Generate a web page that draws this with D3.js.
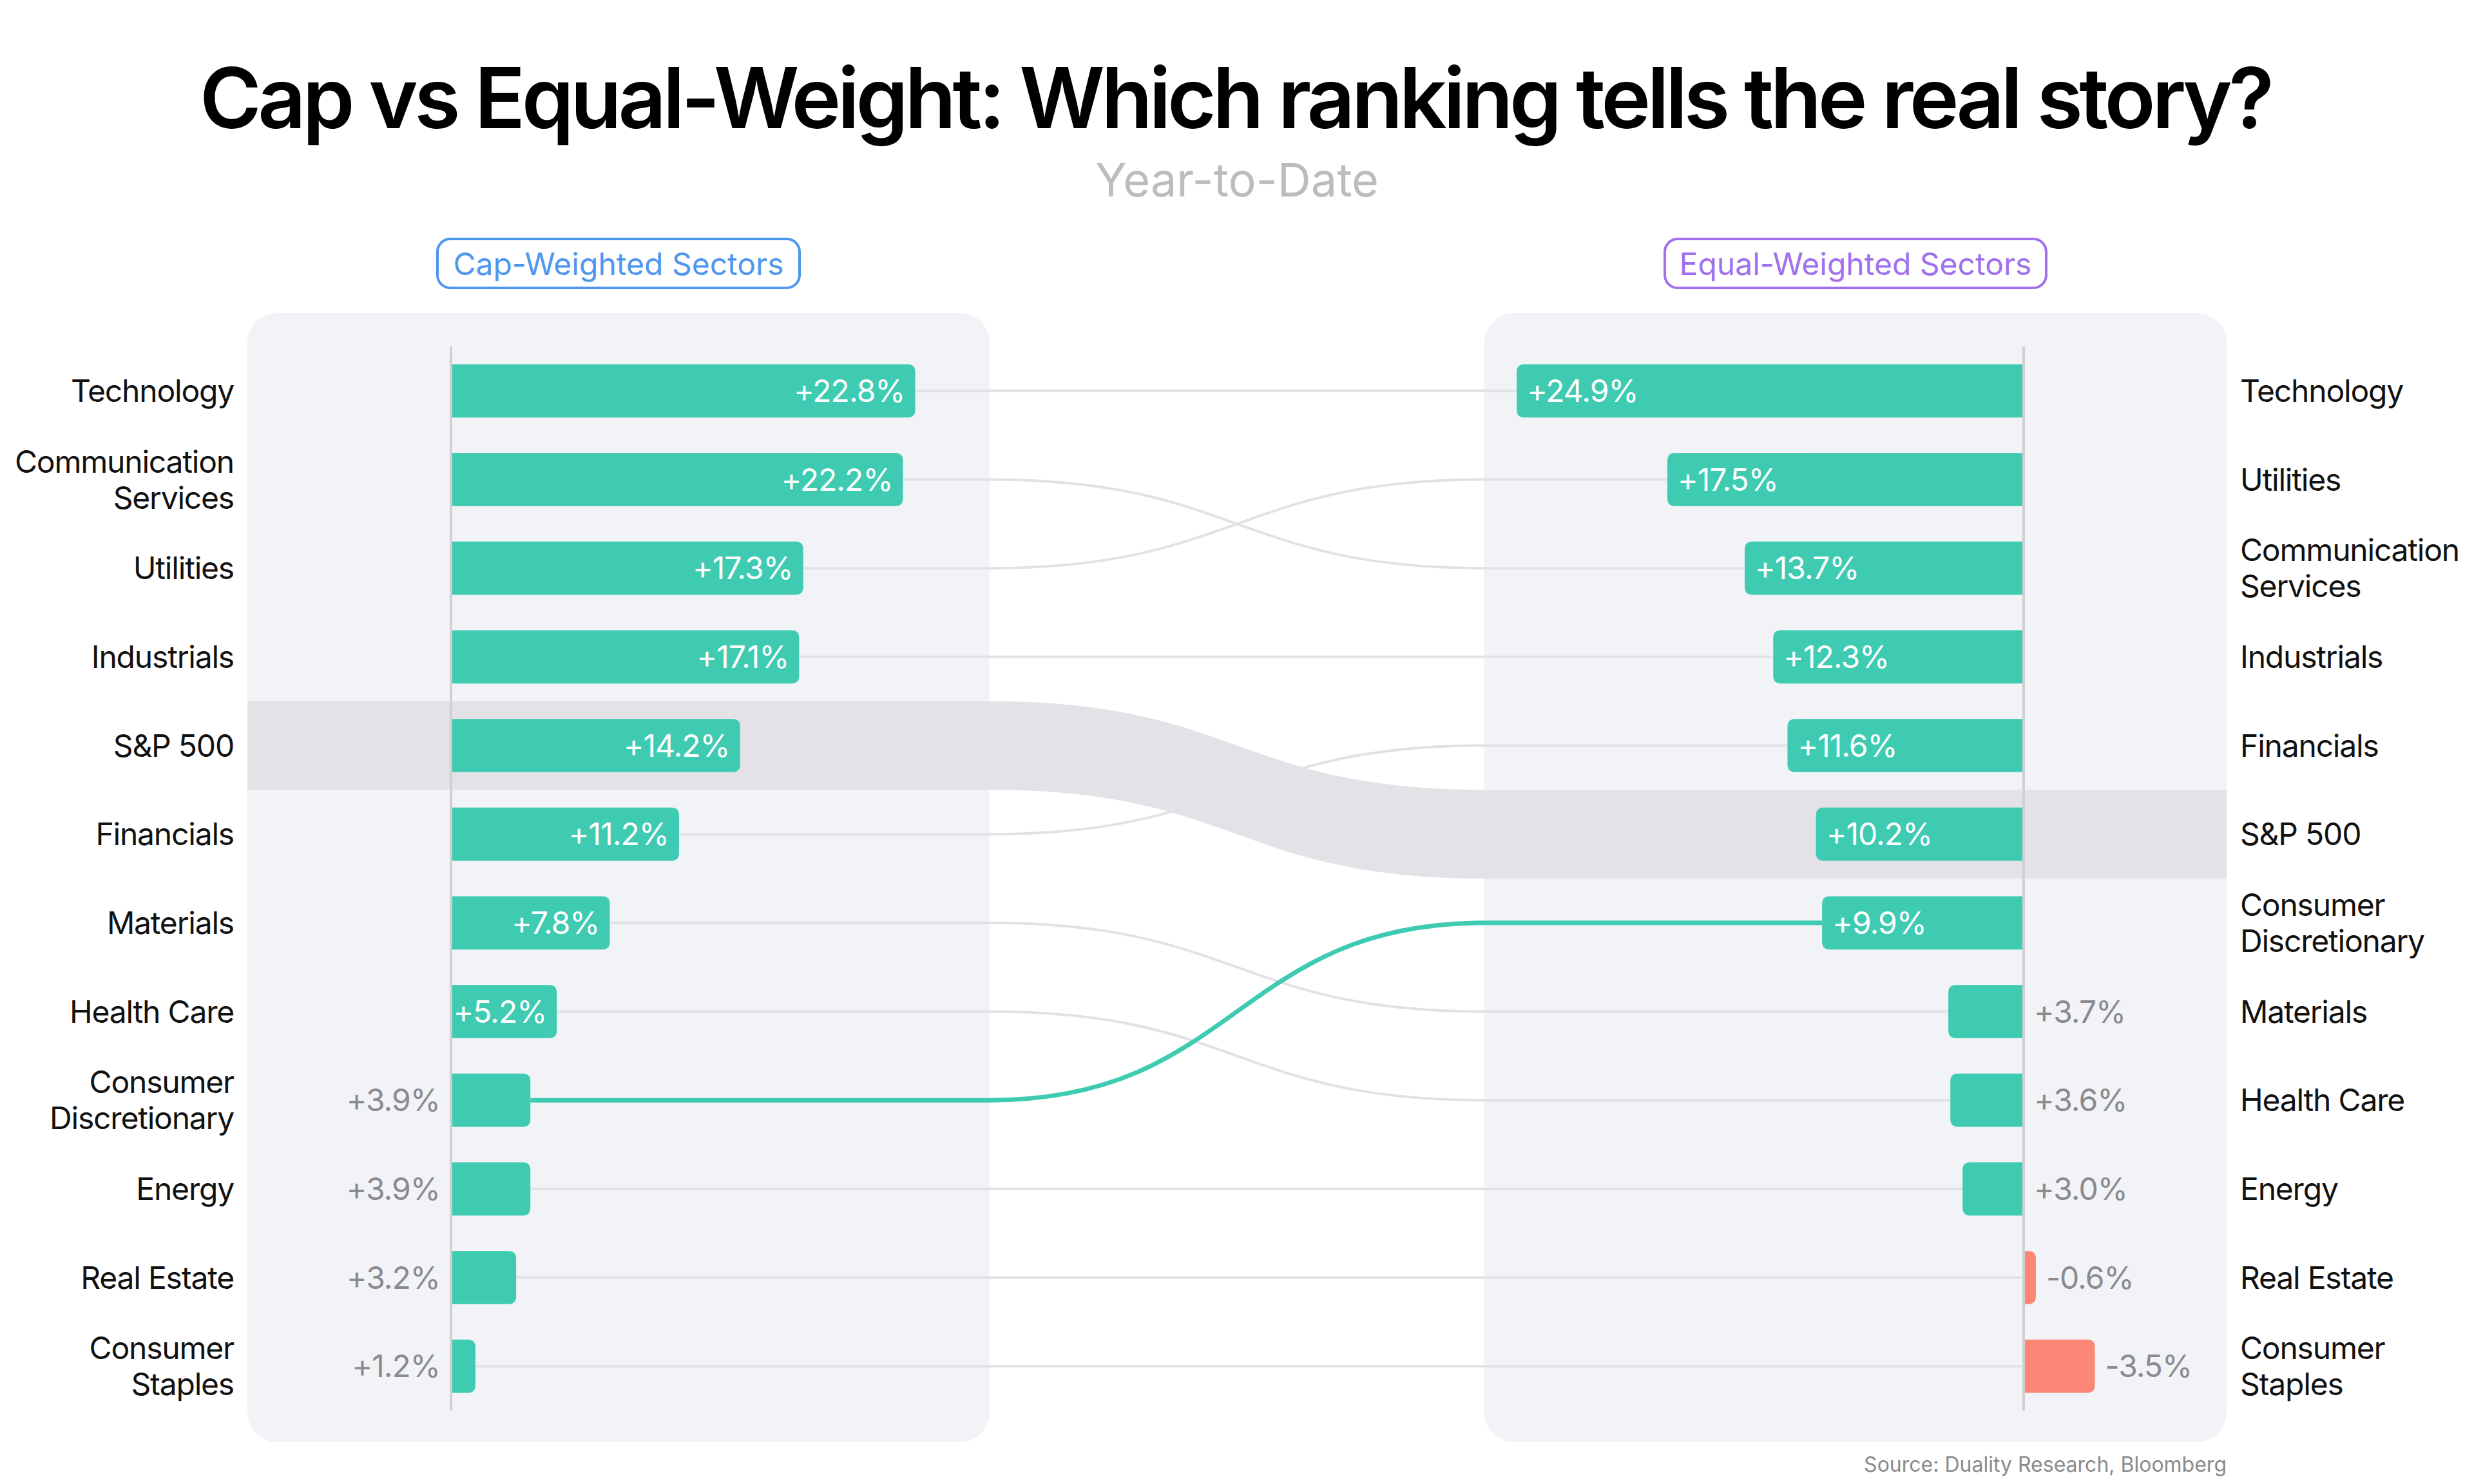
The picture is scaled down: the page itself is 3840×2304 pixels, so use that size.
<!DOCTYPE html>
<html>
  <head>
    <title>Cap vs Equal-Weight</title>
    <script src="https://cdn.jsdelivr.net/npm/d3@7/dist/d3.min.js"></script>
    <style>
      body { margin: 0; background: #fff; }
      text { font-family: Inter, "Noto Sans", sans-serif; }
    </style>
  </head>
  <body>
    <svg width="3840" height="2304" id="mainsvg" style="display: block;"></svg>
    <script>
      // cap-weighted ranking (left)
      const capNames = ['Technology', 'Communication Services', 'Utilities', 'Industrials', 'S&P 500',
        'Financials', 'Materials', 'Health Care', 'Consumer Discretionary', 'Energy', 'Real Estate', 'Consumer Staples'];
      const capValues = [22.8, 22.2, 17.3, 17.1, 14.2, 11.2, 7.8, 5.2, 3.9, 3.9, 3.2, 1.2];
      // equal-weighted ranking (right)
      const eqNames = ['Technology', 'Utilities', 'Communication Services', 'Industrials', 'Financials',
        'S&P 500', 'Consumer Discretionary', 'Materials', 'Health Care', 'Energy', 'Real Estate', 'Consumer Staples'];
      const eqValues = [24.9, 17.5, 13.7, 12.3, 11.6, 10.2, 9.9, 3.7, 3.6, 3.0, -0.6, -3.5];

      const benchmark = 'S&P 500';
      const highlight = 'Consumer Discretionary';

      const svg = d3.select('#mainsvg');
      const width = +svg.attr('width');

      const teal = '#3ecbb1', coral = '#fd8776';
      const panelL = {x0: 384, x1: 1536}, panelR = {x0: 2304, x1: 3456};
      const panelTop = 486, panelBottom = 2239;

      const yScale = d3.scaleBand()
        .domain(d3.range(capNames.length))
        .range([538, 2190])
        .paddingInner(0.4)
        .paddingOuter(0.2);
      const step = yScale.step();
      const bw = yScale.bandwidth();
      const cy = i => yScale(i) + bw / 2;

      const xLeft = d3.scaleLinear().domain([0, 25]).range([700, 1490]);
      const xRight = d3.scaleLinear().domain([0, 25]).range([3141, 2351]);

      // title block
      svg.append('text').text('Cap vs Equal-Weight: Which ranking tells the real story?')
        .attr('x', width / 2).attr('y', 199).attr('text-anchor', 'middle')
        .attr('font-size', 130).attr('font-weight', 600).attr('fill', '#000')
        .attr('textLength', 3220).attr('lengthAdjust', 'spacing');
      svg.append('text').text('Year-to-Date')
        .attr('x', width / 2).attr('y', 305).attr('text-anchor', 'middle')
        .attr('font-size', 72).attr('fill', '#bcbcbc');

      // pills
      const pills = [
        {label: 'Cap-Weighted Sectors', cx: 960, w: 562, color: '#4f96ee'},
        {label: 'Equal-Weighted Sectors', cx: 2880, w: 592, color: '#a070ee'}
      ];
      pills.forEach(p => {
        svg.append('rect').attr('x', p.cx - p.w / 2).attr('y', 371).attr('width', p.w).attr('height', 76)
          .attr('rx', 20).attr('fill', '#fff').attr('stroke', p.color).attr('stroke-width', 4);
        svg.append('text').text(p.label).attr('x', p.cx).attr('y', 427).attr('text-anchor', 'middle')
          .attr('font-size', 48).attr('fill', p.color);
      });

      // panels
      [panelL, panelR].forEach(p => {
        svg.append('rect').attr('x', p.x0).attr('y', panelTop)
          .attr('width', p.x1 - p.x0).attr('height', panelBottom - panelTop)
          .attr('rx', 46).attr('fill', '#f2f3f7');
      });

      // S&P 500 band
      const bL = capNames.indexOf(benchmark), bR = eqNames.indexOf(benchmark);
      const midX = (panelL.x1 + panelR.x0) / 2;
      const topL = cy(bL) - step / 2, topR = cy(bR) - step / 2;
      const botL = topL + step, botR = topR + step;
      const bandPath = d3.path();
      bandPath.moveTo(panelL.x0, topL);
      bandPath.lineTo(panelL.x1, topL);
      bandPath.bezierCurveTo(midX, topL, midX, topR, panelR.x0, topR);
      bandPath.lineTo(panelR.x1, topR);
      bandPath.lineTo(panelR.x1, botR);
      bandPath.lineTo(panelR.x0, botR);
      bandPath.bezierCurveTo(midX, botR, midX, botL, panelL.x1, botL);
      bandPath.lineTo(panelL.x0, botL);
      bandPath.closePath();
      svg.append('path').attr('d', bandPath.toString()).attr('fill', '#e2e2e7');

      // connectors
      const links = capNames.map((name, i) => {
        const j = eqNames.indexOf(name);
        const v2 = eqValues[j];
        return {
          name: name,
          x1: xLeft(Math.max(0, capValues[i])), y1: cy(i),
          x2: xRight(Math.max(0, v2)), y2: cy(j)
        };
      }).filter(d => d.name !== benchmark);
      links.sort((a, b) => (a.name === highlight) - (b.name === highlight));

      svg.append('g').selectAll('path').data(links).join('path')
        .attr('d', d => {
          const p = d3.path();
          p.moveTo(d.x1, d.y1);
          p.lineTo(panelL.x1, d.y1);
          p.bezierCurveTo(midX, d.y1, midX, d.y2, panelR.x0, d.y2);
          p.lineTo(d.x2, d.y2);
          return p.toString();
        })
        .attr('fill', 'none')
        .attr('stroke', d => d.name === highlight ? teal : '#e2e2e6')
        .attr('stroke-width', d => d.name === highlight ? 7 : 4);

      // bar with rounded outer end only
      function barPath(xa, xb, y, h, r) {
        const p = d3.path();
        const dir = xb >= xa ? 1 : -1;
        const rr = Math.min(r, Math.abs(xb - xa), h / 2);
        p.moveTo(xa, y);
        p.lineTo(xb - dir * rr, y);
        p.quadraticCurveTo(xb, y, xb, y + rr);
        p.lineTo(xb, y + h - rr);
        p.quadraticCurveTo(xb, y + h, xb - dir * rr, y + h);
        p.lineTo(xa, y + h);
        p.closePath();
        return p.toString();
      }

      function splitName(name) {
        return name.length > 12 && name.indexOf(' ') > 0 ? name.split(' ') : [name];
      }

      function drawSide(names, values, x, side) {
        const g = svg.append('g');
        const x0 = x(0);
        g.selectAll('path').data(values).join('path')
          .attr('d', (v, i) => barPath(x0, x(v), yScale(i), bw, 12))
          .attr('fill', v => v < 0 ? coral : teal);

        // value labels
        g.selectAll('text.val').data(values).join('text').attr('class', 'val')
          .text(v => (v >= 0 ? '+' : '') + v.toFixed(1) + '%')
          .attr('y', (v, i) => cy(i)).attr('dy', '0.36em')
          .attr('font-size', 48).attr('letter-spacing', -1)
          .each(function (v) {
            const t = d3.select(this);
            const inside = v >= 5;
            if (side === 'left') {
              if (inside) t.attr('x', x(v) - 16).attr('text-anchor', 'end').attr('fill', '#fff');
              else t.attr('x', x0 - 17).attr('text-anchor', 'end').attr('fill', '#8a8a8f');
            } else {
              if (inside) t.attr('x', x(v) + 16).attr('text-anchor', 'start').attr('fill', '#fff');
              else t.attr('x', Math.max(x0, x(v)) + 16).attr('text-anchor', 'start').attr('fill', '#8a8a8f');
            }
          });

        // category labels
        const lx = side === 'left' ? panelL.x0 - 21 : panelR.x1 + 21;
        names.forEach((name, i) => {
          const lines = splitName(name);
          const t = g.append('text')
            .attr('x', lx).attr('y', cy(i))
            .attr('text-anchor', side === 'left' ? 'end' : 'start')
            .attr('font-size', 48).attr('letter-spacing', -1.2).attr('fill', '#111');
          lines.forEach((ln, k) => {
            t.append('tspan').text(ln).attr('x', lx)
              .attr('y', cy(i) + (k - (lines.length - 1) / 2) * 56)
              .attr('dy', '0.36em');
          });
        });

        // axis line
        g.append('line').attr('x1', x0).attr('x2', x0)
          .attr('y1', yScale.range()[0]).attr('y2', yScale.range()[1])
          .attr('stroke', '#cfcfd4').attr('stroke-width', 4);
      }

      drawSide(capNames, capValues, xLeft, 'left');
      drawSide(eqNames, eqValues, xRight, 'right');

      svg.append('text').text('Source: Duality Research, Bloomberg')
        .attr('x', panelR.x1).attr('y', 2285).attr('text-anchor', 'end')
        .attr('font-size', 32).attr('fill', '#8a8a8a');
    </script>
  </body>
</html>
